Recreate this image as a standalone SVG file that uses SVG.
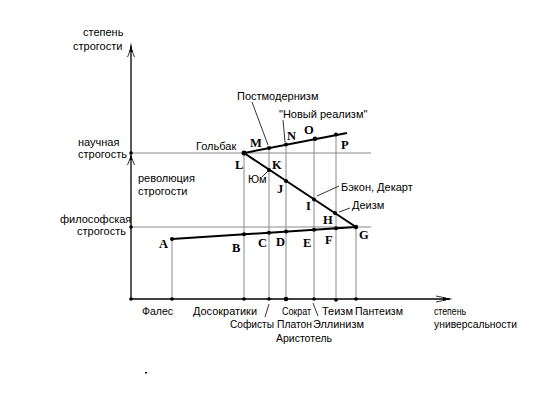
<svg xmlns="http://www.w3.org/2000/svg" width="536" height="401" viewBox="0 0 536 401">
<style>
.t{font-family:"Liberation Sans",Arial,sans-serif;font-size:11px;fill:#000}
.b{font-family:"Liberation Serif","Times New Roman",serif;font-size:12.5px;font-weight:bold;fill:#000}
.g{stroke:#8a8a8a;stroke-width:1;fill:none}
.k{stroke:#000;stroke-width:2;fill:none}
.ax{stroke:#000;stroke-width:1.3;fill:none}
.ld{stroke:#000;stroke-width:0.8;fill:none}
.d{fill:#000}
</style>
<rect width="536" height="401" fill="#fff"/>
<g id="grid">
<line class="g" x1="131" y1="153" x2="371" y2="153"/>
<line class="g" x1="131" y1="227" x2="371" y2="227"/>
<line class="g" x1="172" y1="239" x2="172" y2="299"/>
<line class="g" x1="244" y1="153" x2="244" y2="299"/>
<line class="g" x1="269" y1="147" x2="269" y2="299"/>
<line class="g" x1="286" y1="144" x2="286" y2="299"/>
<line class="g" x1="314" y1="138" x2="314" y2="299"/>
<line class="g" x1="336" y1="135" x2="336" y2="299"/>
<line class="g" x1="356" y1="227" x2="356" y2="299"/>
</g>
<g id="axes">
<line class="ax" x1="131" y1="299" x2="131" y2="46"/>
<path d="M131,42 L129.5,52 L132.5,52 Z" class="d"/>
<path class="ld" d="M130,50 Q129,54 127.5,57 M132,50 Q133,54 134.5,57"/>
<line class="ax" x1="131" y1="299" x2="450" y2="299"/>
<path d="M453,299 L443,297.5 L443,300.5 Z" class="d"/>
<path class="ld" d="M436,296 L446,298 M436,302 L446,300"/>
<path class="ld" d="M131,156 L127.5,165 M131,156 L134.5,165"/>
<path d="M131,155 L130,160 L132,160 Z" class="d"/>
<circle class="d" cx="131" cy="153" r="1.8"/>
<circle class="d" cx="131" cy="227" r="1.8"/>
</g>
<g id="connectors">
<polyline class="k" points="172,239 356,227"/>
<polyline class="k" points="244,153 356,227"/>
<polyline class="k" points="244,153 347,133"/>
<line class="ld" x1="252" y1="102" x2="268" y2="145"/>
<line class="ld" x1="283" y1="120" x2="285" y2="142"/>
<line class="ld" x1="262" y1="177" x2="268" y2="171"/>
<line class="ld" x1="339" y1="186" x2="317" y2="196"/>
<line class="ld" x1="350" y1="208" x2="339" y2="212"/>
<line class="ld" x1="265" y1="317" x2="269" y2="304"/>
<line class="ld" x1="313" y1="303" x2="318" y2="316"/>
</g>
<g id="points">
<circle class="d" cx="172" cy="239" r="2"/>
<circle class="d" cx="244" cy="234.3" r="2"/>
<circle class="d" cx="269" cy="232.7" r="2"/>
<circle class="d" cx="286" cy="231.6" r="2"/>
<circle class="d" cx="314" cy="229.8" r="2"/>
<circle class="d" cx="336" cy="228.3" r="2"/>
<circle class="d" cx="356" cy="227" r="2.2"/>
<circle class="d" cx="244" cy="153" r="2.5"/>
<circle class="d" cx="269" cy="148" r="2"/>
<circle class="d" cx="286" cy="144.5" r="2"/>
<circle class="d" cx="315" cy="138.7" r="2.2"/>
<circle class="d" cx="336" cy="134.5" r="2"/>
<circle class="d" cx="269" cy="170" r="2"/>
<circle class="d" cx="286" cy="181" r="2"/>
<circle class="d" cx="314" cy="199.5" r="2"/>
<circle class="d" cx="335" cy="213" r="2"/>
<circle class="d" cx="131" cy="299" r="1.8"/>
<circle class="d" cx="172" cy="299" r="1.8"/>
<circle class="d" cx="244" cy="299" r="1.8"/>
<circle class="d" cx="269" cy="299" r="1.8"/>
<circle class="d" cx="286" cy="299" r="2.3"/>
<circle class="d" cx="314" cy="299" r="1.8"/>
<circle class="d" cx="336" cy="300" r="1.8"/>
<circle class="d" cx="356" cy="299" r="1.8"/>
</g>
<g id="letters">
<text class="b" x="159" y="248">A</text>
<text class="b" x="232" y="252">B</text>
<text class="b" x="258" y="247">C</text>
<text class="b" x="276" y="246">D</text>
<text class="b" x="303" y="247">E</text>
<text class="b" x="325" y="244">F</text>
<text class="b" x="359" y="239">G</text>
<text class="b" x="323" y="224">H</text>
<text class="b" x="306" y="210">I</text>
<text class="b" x="277" y="193">J</text>
<text class="b" x="272" y="169">K</text>
<text class="b" x="235" y="169">L</text>
<text class="b" x="250" y="147">M</text>
<text class="b" x="287" y="140">N</text>
<text class="b" x="304" y="134">O</text>
<text class="b" x="341" y="149">P</text>
</g>
<g id="labels">
<text class="t" x="83" y="36">степень</text>
<text class="t" x="73" y="50">строгости</text>
<text class="t" x="78" y="146">научная</text>
<text class="t" x="78" y="158">строгость</text>
<text class="t" x="138" y="182">революция</text>
<text class="t" x="138" y="195">строгости</text>
<text class="t" x="60" y="223">философская</text>
<text class="t" x="77" y="235">строгость</text>
<text class="t" x="196" y="150">Гольбак</text>
<text class="t" x="237" y="100">Постмодернизм</text>
<text class="t" x="279" y="118">"Новый реализм"</text>
<text class="t" x="248" y="183">Юм</text>
<text class="t" x="341" y="191">Бэкон, Декарт</text>
<text class="t" x="352" y="209">Деизм</text>
<text class="t" x="142" y="315" textLength="31" lengthAdjust="spacingAndGlyphs">Фалес</text>
<text class="t" x="193" y="315" textLength="64" lengthAdjust="spacingAndGlyphs">Досократики</text>
<text class="t" x="282" y="315" textLength="29" lengthAdjust="spacingAndGlyphs">Сократ</text>
<text class="t" x="322" y="315" textLength="31" lengthAdjust="spacingAndGlyphs">Теизм</text>
<text class="t" x="355" y="315" textLength="48" lengthAdjust="spacingAndGlyphs">Пантеизм</text>
<text class="t" x="230" y="328" textLength="44" lengthAdjust="spacingAndGlyphs">Софисты</text>
<text class="t" x="277" y="328" textLength="35" lengthAdjust="spacingAndGlyphs">Платон</text>
<text class="t" x="313" y="328" textLength="51" lengthAdjust="spacingAndGlyphs">Эллинизм</text>
<text class="t" x="276" y="342" textLength="56" lengthAdjust="spacingAndGlyphs">Аристотель</text>
<text class="t" x="434" y="315" textLength="32" lengthAdjust="spacingAndGlyphs">степень</text>
<text class="t" x="434" y="328" textLength="83" lengthAdjust="spacingAndGlyphs">универсальности</text>
</g>
<rect x="145" y="372" width="2" height="1.5" fill="#000"/>
</svg>
